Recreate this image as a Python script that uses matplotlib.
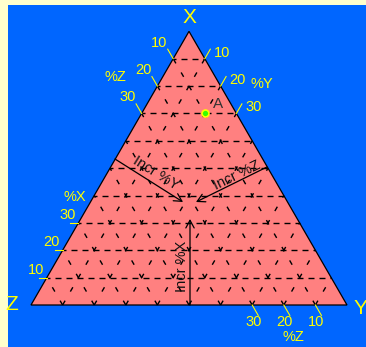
import numpy as np
import matplotlib
matplotlib.use("Agg")
import matplotlib.pyplot as plt
from matplotlib.patches import Polygon, Rectangle, FancyArrowPatch

plt.rcParams['font.family'] = ['Liberation Sans', 'DejaVu Sans']
plt.rcParams['lines.scale_dashes'] = False

# ---- data ----
grid_levels = [10, 20, 30, 40, 50, 60, 70, 80, 90]
y_right_ticks = [10, 20, 30]          # labels on right edge (%Y)
z_left_ticks = [10, 20, 30]           # labels on upper left edge (%Z)
x_left_ticks = [30, 20, 10]           # labels on lower left edge (%X)
z_bottom_ticks = [30, 20, 10]         # labels on bottom edge (%Z)
point_A = {"X": 70, "Y": 20, "Z": 10}
vertex_labels = ["X", "Y", "Z"]

W, H, DPI = 366, 347, 100
S = 316.0          # px per unit side
OX, OY = 31.0, 305.0

def t2c(X, Y, Z):
    tot = X + Y + Z
    X, Y = X / tot, Y / tot
    return Y + X / 2.0, X * np.sqrt(3) / 2.0

def px(pxx, pyy):
    return (pxx - OX) / S, (OY - pyy) / S

def off(pt, dx, dy):
    return pt[0] + dx / S, pt[1] - dy / S

fig = plt.figure(figsize=(W / DPI, H / DPI), dpi=DPI, facecolor='#FFFFCC')
ax = fig.add_axes([0, 0, 1, 1])
ax.set_xlim(-OX / S, (W - OX) / S)
ax.set_ylim((OY - H) / S, OY / S)
ax.axis('off')
ax.patch.set_alpha(0)

ax.add_patch(Rectangle((8 / W, 0), 1 - 8 / W, 1 - 5 / H, transform=ax.transAxes,
                       facecolor='#0066FF', edgecolor='none', zorder=0))

verts = [t2c(100, 0, 0), t2c(0, 0, 100), t2c(0, 100, 0)]
ax.add_patch(Polygon(verts, closed=True, facecolor='#FF8080', edgecolor='black',
                     lw=0.9, zorder=1))

k = 0.72
hdash = (6.0 * k / 2, (6.0 * k, 5.0 * k))
sdash = (0, (5.0 * k, 10.5 * k))
for v in grid_levels:
    # constant X (horizontal)
    a = t2c(v, 0, 100 - v); b = t2c(v, 100 - v, 0)
    ax.plot([a[0], b[0]], [a[1], b[1]], color='black', lw=1.0, linestyle=hdash, zorder=2)
    # constant Y
    a = t2c(0, v, 100 - v); b = t2c(100 - v, v, 0)
    ax.plot([a[0], b[0]], [a[1], b[1]], color='black', lw=1.0, linestyle=sdash, zorder=2)
    # constant Z
    a = t2c(0, 100 - v, v); b = t2c(100 - v, 0, v)
    ax.plot([a[0], b[0]], [a[1], b[1]], color='black', lw=1.0, linestyle=sdash, zorder=2)

yel = '#FFFF00'
fs = 10.5
c60 = np.array([0.5, np.sqrt(3) / 2])

# right edge %Y ticks
for t in y_right_ticks:
    X = 100 - t
    n = t2c(X, 100 - X, 0)
    e = (n[0] + 11 / S * c60[0], n[1] + 11 / S * c60[1])
    ax.plot([n[0], e[0]], [n[1], e[1]], color=yel, lw=0.8, zorder=3)
    ax.text(*off(n, 17, -6), str(t), color=yel, fontsize=fs, ha='center', va='center')
ax.text(*px(262, 84), '%Y', color=yel, fontsize=fs, ha='center', va='center')

# upper-left %Z ticks
for t in z_left_ticks:
    X = 100 - t
    n = t2c(X, 0, 100 - X)
    e = (n[0] - 11 / S * c60[0], n[1] + 11 / S * c60[1])
    ax.plot([n[0], e[0]], [n[1], e[1]], color=yel, lw=0.8, zorder=3)
    ax.text(*off(n, -14, -16), str(t), color=yel, fontsize=fs, ha='center', va='center')
ax.text(*px(115, 77), '%Z', color=yel, fontsize=fs, ha='center', va='center')

# lower-left %X ticks
for t in x_left_ticks:
    n = t2c(t, 0, 100 - t)
    ax.plot([n[0] - 8 / S, n[0]], [n[1], n[1]], color=yel, lw=0.8, zorder=3)
    ax.text(*off(n, -11, -8), str(t), color=yel, fontsize=fs, ha='center', va='center')
ax.text(*px(75, 197), '%X', color=yel, fontsize=fs, ha='center', va='center')

# bottom %Z ticks
for t in z_bottom_ticks:
    n = t2c(0, 100 - t, t)
    e = (n[0] + 12 / S * c60[0], n[1] - 12 / S * c60[1])
    ax.plot([n[0], e[0]], [n[1], e[1]], color=yel, lw=0.8, zorder=3)
    ax.text(*off(n, 1, 17), str(t), color=yel, fontsize=fs, ha='center', va='center')
ax.text(*px(293, 337), '%Z', color=yel, fontsize=fs, ha='center', va='center')

# vertex labels
ax.text(*off(verts[0], 0, -14), vertex_labels[0], color=yel, fontsize=15, ha='center', va='center')
ax.text(*off(verts[2], 13, 3), vertex_labels[1], color=yel, fontsize=15, ha='center', va='center')
ax.text(*off(verts[1], -19, 0), vertex_labels[2], color=yel, fontsize=15, ha='center', va='center')

# point A
pa = t2c(point_A["X"], point_A["Y"], point_A["Z"])
ax.plot([pa[0]], [pa[1]], 'o', ms=5, mfc='#33FF00', mec=yel, mew=1.2, zorder=5)
ax.text(*off(pa, 13, -9), 'A', color='#333333', fontsize=11, ha='center', va='center', zorder=5)

# arrows
def arrow(p0, p1):
    ax.add_patch(FancyArrowPatch(p0, p1, arrowstyle='->,head_length=0.55,head_width=0.3',
                                 mutation_scale=10, color='black', lw=0.9,
                                 shrinkA=0, shrinkB=0, zorder=4))

a0, a1 = px(115, 159), px(183, 202)
arrow(a0, a1)
b0, b1 = px(267, 167), px(196, 202)
arrow(b0, b1)
c0, c1 = px(190, 305), px(190, 219)
arrow(c0, c1)

ax.text(*px(156, 173), 'Incr %Y', color='#111111', fontsize=10.5, rotation=-32,
        ha='center', va='center', rotation_mode='anchor', zorder=5)
ax.text(*px(237, 175), 'Incr %Z', color='#111111', fontsize=10.5, rotation=26,
        ha='center', va='center', rotation_mode='anchor', zorder=5)
ax.text(*px(182, 266), 'Incr %X', color='#111111', fontsize=10.5, rotation=90,
        ha='center', va='center', rotation_mode='anchor', zorder=5)

fig.savefig('out.png', dpi=DPI, facecolor=fig.get_facecolor())
